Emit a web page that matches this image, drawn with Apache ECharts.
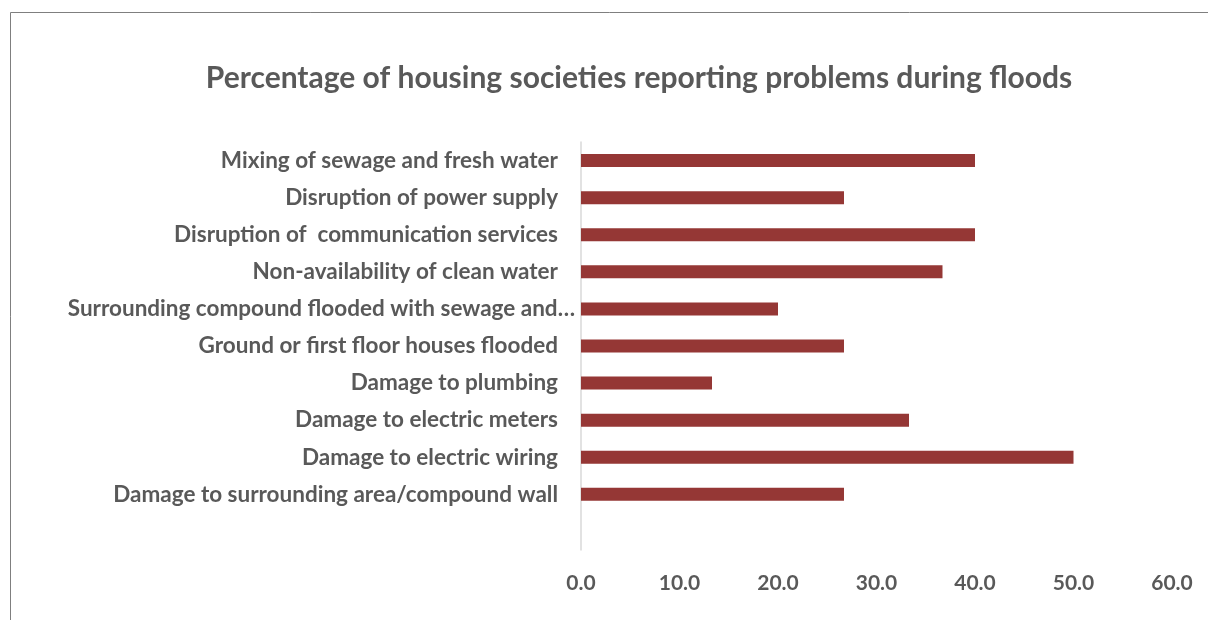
<!DOCTYPE html>
<html>
<head>
<meta charset="utf-8">
<script src="https://cdn.jsdelivr.net/npm/echarts@6/dist/echarts.min.js"></script>
<style>
html,body{margin:0;padding:0;background:#fff;}
#chart{width:1208px;height:620px;}
</style>
</head>
<body>
<div id="chart"></div>
<script>
const chartTitle = 'Percentage of housing societies reporting problems during floods';
const categories = [
  'Mixing of sewage and fresh water',
  'Disruption of power supply',
  'Disruption of  communication services',
  'Non-availability of clean water',
  'Surrounding compound flooded with sewage and…',
  'Ground or first floor houses flooded',
  'Damage to plumbing',
  'Damage to electric meters',
  'Damage to electric wiring',
  'Damage to surrounding area/compound wall',
  ''
];
const values = [40.0, 26.7, 40.0, 36.7, 20.0, 26.7, 13.3, 33.3, 50.0, 26.7, null];
const xTicks = [0, 10, 20, 30, 40, 50, 60];

const font = 'Lato, "Open Sans", sans-serif';
const catData = categories.map(c => c.endsWith('…')
  ? {value: c, textStyle: {padding: [0, -17, 0, 0]}}
  : c);
const chart = echarts.init(document.getElementById('chart'));
chart.setOption({
  animation: false,
  backgroundColor: '#fff',
  graphic: [{
    type: 'rect',
    shape: {x: 10.5, y: 12.5, width: 1400, height: 800},
    style: {fill: 'none', stroke: '#7f7f7f', lineWidth: 1},
    silent: true
  }],
  title: {
    text: chartTitle,
    left: 634, top: 58, textAlign: 'center',
    textStyle: {fontFamily: font, fontWeight: 'bold', fontSize: 30, color: '#595959'}
  },
  grid: {left: 581, right: 36, top: 142, bottom: 70, containLabel: false},
  xAxis: {
    type: 'value', min: 0, max: 60, interval: 10,
    axisLine: {show: false}, axisTick: {show: false}, splitLine: {show: false},
    axisLabel: {
      margin: 23,
      fontFamily: font, fontWeight: 'bold', fontSize: 21, color: '#595959',
      formatter: v => xTicks.includes(v) ? v.toFixed(1) : ''
    }
  },
  yAxis: {
    type: 'category', inverse: true, data: catData,
    axisLine: {show: true, lineStyle: {color: '#d9d9d9', width: 1.5}},
    axisTick: {show: false},
    axisLabel: {margin: 23, fontFamily: font, fontWeight: 'bold', fontSize: 22.5, color: '#595959'}
  },
  series: [{
    type: 'bar', data: values, barWidth: 13,
    itemStyle: {color: '#953735'}
  }]
});
</script>
</body>
</html>
